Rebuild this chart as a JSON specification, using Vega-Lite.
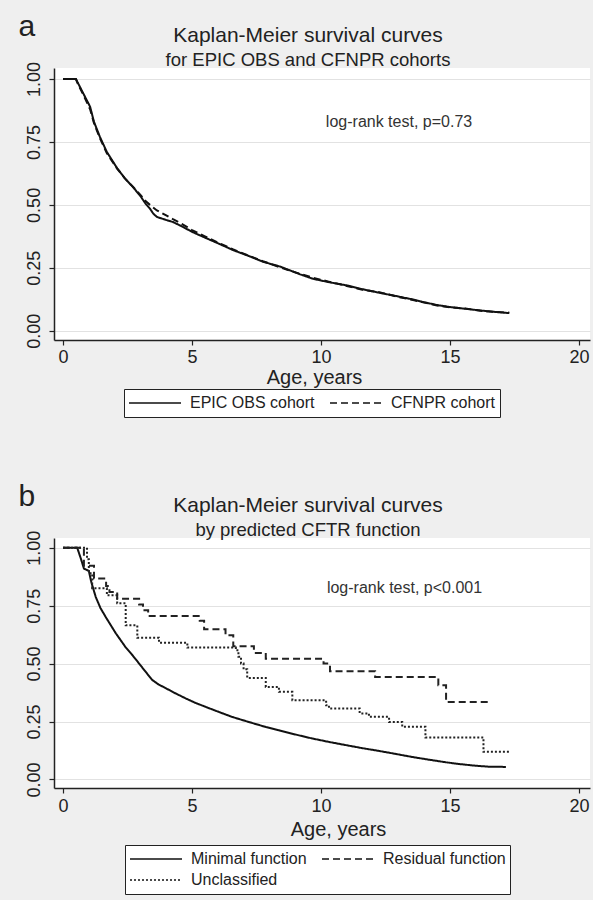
{
  "$schema": "https://vega.github.io/schema/vega-lite/v6.json",
  "background": "#efefef",
  "padding": {"left": 18, "top": 11, "right": 3, "bottom": 5},
  "spacing": 63,
  "resolve": {"scale": {"strokeDash": "independent"}, "legend": {"strokeDash": "independent"}},
  "config": {
    "font": "Liberation Sans",
    "view": {"fill": "white", "stroke": null},
    "axis": {"domainColor": "#222", "domainWidth": 1.5, "tickColor": "#222", "tickWidth": 1.2, "tickSize": 5, "labelFontSize": 18, "labelColor": "#222", "labelFont": "Liberation Sans", "titleFont": "Liberation Sans", "titleColor": "#222", "titleFontWeight": "normal", "grid": false, "labelFlush": false, "labelOverlap": false},
    "axisY": {"grid": true, "gridColor": "#e2e2e2", "gridWidth": 1, "labelAngle": 270, "labelAlign": "center", "labelBaseline": "bottom", "labelPadding": 6},
    "title": {"font": "Liberation Sans", "subtitleFont": "Liberation Sans", "fontSize": 21, "subtitleFontSize": 18.5, "fontWeight": "normal", "color": "#222", "subtitleColor": "#222", "anchor": "middle", "dx": -14, "subtitlePadding": 5, "offset": -58},
    "legend": {"orient": "none", "direction": "horizontal", "columns": 2, "fillColor": "white", "strokeColor": "#222", "padding": 4, "symbolType": "stroke", "symbolSize": 2704, "clipHeight": 20, "symbolStrokeWidth": 1.5, "symbolStrokeColor": "#111", "labelFontSize": 16, "labelColor": "#222", "labelFont": "Liberation Sans", "labelOffset": 8, "columnPadding": 14, "rowPadding": 1, "labelLimit": 300}
  },
  "datasets": {
    "top": [
      {"cohort": "EPIC OBS cohort", "t": 0, "s": 1}, {"cohort": "EPIC OBS cohort", "t": 0.5, "s": 1}, {"cohort": "EPIC OBS cohort", "t": 0.6, "s": 0.98}, {"cohort": "EPIC OBS cohort", "t": 0.8, "s": 0.94}, {"cohort": "EPIC OBS cohort", "t": 1.05, "s": 0.89}, {"cohort": "EPIC OBS cohort", "t": 1.2, "s": 0.83}, {"cohort": "EPIC OBS cohort", "t": 1.43, "s": 0.77}, {"cohort": "EPIC OBS cohort", "t": 1.7, "s": 0.71}, {"cohort": "EPIC OBS cohort", "t": 2.09, "s": 0.647}, {"cohort": "EPIC OBS cohort", "t": 2.4, "s": 0.605}, {"cohort": "EPIC OBS cohort", "t": 2.71, "s": 0.571}, {"cohort": "EPIC OBS cohort", "t": 3.0, "s": 0.535}, {"cohort": "EPIC OBS cohort", "t": 3.2, "s": 0.505}, {"cohort": "EPIC OBS cohort", "t": 3.37, "s": 0.485}, {"cohort": "EPIC OBS cohort", "t": 3.5, "s": 0.465}, {"cohort": "EPIC OBS cohort", "t": 3.64, "s": 0.452}, {"cohort": "EPIC OBS cohort", "t": 4.0, "s": 0.44}, {"cohort": "EPIC OBS cohort", "t": 4.26, "s": 0.432}, {"cohort": "EPIC OBS cohort", "t": 4.6, "s": 0.415}, {"cohort": "EPIC OBS cohort", "t": 5.0, "s": 0.393}, {"cohort": "EPIC OBS cohort", "t": 5.5, "s": 0.37}, {"cohort": "EPIC OBS cohort", "t": 5.97, "s": 0.349}, {"cohort": "EPIC OBS cohort", "t": 6.6, "s": 0.32}, {"cohort": "EPIC OBS cohort", "t": 7.2, "s": 0.297}, {"cohort": "EPIC OBS cohort", "t": 7.75, "s": 0.274}, {"cohort": "EPIC OBS cohort", "t": 8.41, "s": 0.255}, {"cohort": "EPIC OBS cohort", "t": 9.19, "s": 0.224}, {"cohort": "EPIC OBS cohort", "t": 9.7, "s": 0.206}, {"cohort": "EPIC OBS cohort", "t": 10.3, "s": 0.193}, {"cohort": "EPIC OBS cohort", "t": 11.0, "s": 0.18}, {"cohort": "EPIC OBS cohort", "t": 11.6, "s": 0.165}, {"cohort": "EPIC OBS cohort", "t": 12.3, "s": 0.15}, {"cohort": "EPIC OBS cohort", "t": 13.0, "s": 0.136}, {"cohort": "EPIC OBS cohort", "t": 13.57, "s": 0.124}, {"cohort": "EPIC OBS cohort", "t": 14.0, "s": 0.113}, {"cohort": "EPIC OBS cohort", "t": 14.5, "s": 0.102}, {"cohort": "EPIC OBS cohort", "t": 15.0, "s": 0.094}, {"cohort": "EPIC OBS cohort", "t": 15.6, "s": 0.087}, {"cohort": "EPIC OBS cohort", "t": 16.3, "s": 0.079}, {"cohort": "EPIC OBS cohort", "t": 16.8, "s": 0.074}, {"cohort": "EPIC OBS cohort", "t": 17.3, "s": 0.07},
      {"cohort": "CFNPR cohort", "t": 0, "s": 1}, {"cohort": "CFNPR cohort", "t": 0.5, "s": 1}, {"cohort": "CFNPR cohort", "t": 0.6, "s": 0.975}, {"cohort": "CFNPR cohort", "t": 0.8, "s": 0.935}, {"cohort": "CFNPR cohort", "t": 1.05, "s": 0.88}, {"cohort": "CFNPR cohort", "t": 1.2, "s": 0.825}, {"cohort": "CFNPR cohort", "t": 1.43, "s": 0.765}, {"cohort": "CFNPR cohort", "t": 1.7, "s": 0.705}, {"cohort": "CFNPR cohort", "t": 2.09, "s": 0.645}, {"cohort": "CFNPR cohort", "t": 2.4, "s": 0.605}, {"cohort": "CFNPR cohort", "t": 2.71, "s": 0.572}, {"cohort": "CFNPR cohort", "t": 3.0, "s": 0.54}, {"cohort": "CFNPR cohort", "t": 3.2, "s": 0.515}, {"cohort": "CFNPR cohort", "t": 3.37, "s": 0.5}, {"cohort": "CFNPR cohort", "t": 3.64, "s": 0.478}, {"cohort": "CFNPR cohort", "t": 4.0, "s": 0.458}, {"cohort": "CFNPR cohort", "t": 4.26, "s": 0.443}, {"cohort": "CFNPR cohort", "t": 4.6, "s": 0.425}, {"cohort": "CFNPR cohort", "t": 5.0, "s": 0.4}, {"cohort": "CFNPR cohort", "t": 5.5, "s": 0.375}, {"cohort": "CFNPR cohort", "t": 5.97, "s": 0.352}, {"cohort": "CFNPR cohort", "t": 6.6, "s": 0.323}, {"cohort": "CFNPR cohort", "t": 7.2, "s": 0.298}, {"cohort": "CFNPR cohort", "t": 7.75, "s": 0.276}, {"cohort": "CFNPR cohort", "t": 8.41, "s": 0.252}, {"cohort": "CFNPR cohort", "t": 9.19, "s": 0.226}, {"cohort": "CFNPR cohort", "t": 9.7, "s": 0.21}, {"cohort": "CFNPR cohort", "t": 10.3, "s": 0.195}, {"cohort": "CFNPR cohort", "t": 11.0, "s": 0.178}, {"cohort": "CFNPR cohort", "t": 11.6, "s": 0.163}, {"cohort": "CFNPR cohort", "t": 12.3, "s": 0.152}, {"cohort": "CFNPR cohort", "t": 13.0, "s": 0.134}, {"cohort": "CFNPR cohort", "t": 13.57, "s": 0.122}, {"cohort": "CFNPR cohort", "t": 14.0, "s": 0.112}, {"cohort": "CFNPR cohort", "t": 14.5, "s": 0.1}, {"cohort": "CFNPR cohort", "t": 15.0, "s": 0.093}, {"cohort": "CFNPR cohort", "t": 15.6, "s": 0.088}, {"cohort": "CFNPR cohort", "t": 16.3, "s": 0.078}, {"cohort": "CFNPR cohort", "t": 16.8, "s": 0.074}, {"cohort": "CFNPR cohort", "t": 17.3, "s": 0.072}
    ],
    "minimal": [
      {"group": "Minimal function", "t": 0, "s": 1}, {"group": "Minimal function", "t": 0.55, "s": 1}, {"group": "Minimal function", "t": 0.7, "s": 0.95}, {"group": "Minimal function", "t": 0.81, "s": 0.91}, {"group": "Minimal function", "t": 1.0, "s": 0.9}, {"group": "Minimal function", "t": 1.1, "s": 0.85}, {"group": "Minimal function", "t": 1.27, "s": 0.787}, {"group": "Minimal function", "t": 1.45, "s": 0.74}, {"group": "Minimal function", "t": 1.66, "s": 0.7}, {"group": "Minimal function", "t": 2.05, "s": 0.63}, {"group": "Minimal function", "t": 2.43, "s": 0.57}, {"group": "Minimal function", "t": 2.7, "s": 0.535}, {"group": "Minimal function", "t": 2.95, "s": 0.5}, {"group": "Minimal function", "t": 3.2, "s": 0.465}, {"group": "Minimal function", "t": 3.45, "s": 0.43}, {"group": "Minimal function", "t": 3.7, "s": 0.41}, {"group": "Minimal function", "t": 3.98, "s": 0.394}, {"group": "Minimal function", "t": 4.35, "s": 0.372}, {"group": "Minimal function", "t": 4.75, "s": 0.35}, {"group": "Minimal function", "t": 5.1, "s": 0.332}, {"group": "Minimal function", "t": 5.53, "s": 0.313}, {"group": "Minimal function", "t": 6.0, "s": 0.293}, {"group": "Minimal function", "t": 6.55, "s": 0.27}, {"group": "Minimal function", "t": 7.2, "s": 0.248}, {"group": "Minimal function", "t": 7.87, "s": 0.226}, {"group": "Minimal function", "t": 8.37, "s": 0.212}, {"group": "Minimal function", "t": 9.15, "s": 0.19}, {"group": "Minimal function", "t": 9.65, "s": 0.177}, {"group": "Minimal function", "t": 10.3, "s": 0.162}, {"group": "Minimal function", "t": 10.97, "s": 0.148}, {"group": "Minimal function", "t": 11.6, "s": 0.135}, {"group": "Minimal function", "t": 12.25, "s": 0.123}, {"group": "Minimal function", "t": 12.9, "s": 0.11}, {"group": "Minimal function", "t": 13.53, "s": 0.097}, {"group": "Minimal function", "t": 14.2, "s": 0.085}, {"group": "Minimal function", "t": 14.84, "s": 0.074}, {"group": "Minimal function", "t": 15.4, "s": 0.066}, {"group": "Minimal function", "t": 16.0, "s": 0.059}, {"group": "Minimal function", "t": 16.5, "s": 0.055}, {"group": "Minimal function", "t": 17.17, "s": 0.054}
    ],
    "others": [
      {"group": "Residual function", "t": 0, "s": 1}, {"group": "Residual function", "t": 0.81, "s": 0.922}, {"group": "Residual function", "t": 1.2, "s": 0.867}, {"group": "Residual function", "t": 1.67, "s": 0.835}, {"group": "Residual function", "t": 1.8, "s": 0.809}, {"group": "Residual function", "t": 2.1, "s": 0.78}, {"group": "Residual function", "t": 2.95, "s": 0.755}, {"group": "Residual function", "t": 3.1, "s": 0.73}, {"group": "Residual function", "t": 3.3, "s": 0.705}, {"group": "Residual function", "t": 5.3, "s": 0.685}, {"group": "Residual function", "t": 5.47, "s": 0.648}, {"group": "Residual function", "t": 6.3, "s": 0.622}, {"group": "Residual function", "t": 6.6, "s": 0.575}, {"group": "Residual function", "t": 7.4, "s": 0.546}, {"group": "Residual function", "t": 7.86, "s": 0.521}, {"group": "Residual function", "t": 10.1, "s": 0.5}, {"group": "Residual function", "t": 10.35, "s": 0.467}, {"group": "Residual function", "t": 12.1, "s": 0.442}, {"group": "Residual function", "t": 14.55, "s": 0.406}, {"group": "Residual function", "t": 14.85, "s": 0.334}, {"group": "Residual function", "t": 16.5, "s": 0.334},
      {"group": "Unclassified", "t": 0, "s": 1}, {"group": "Unclassified", "t": 0.93, "s": 0.95}, {"group": "Unclassified", "t": 1.0, "s": 0.89}, {"group": "Unclassified", "t": 1.13, "s": 0.825}, {"group": "Unclassified", "t": 1.7, "s": 0.795}, {"group": "Unclassified", "t": 2.1, "s": 0.76}, {"group": "Unclassified", "t": 2.43, "s": 0.665}, {"group": "Unclassified", "t": 2.88, "s": 0.612}, {"group": "Unclassified", "t": 3.72, "s": 0.59}, {"group": "Unclassified", "t": 4.82, "s": 0.569}, {"group": "Unclassified", "t": 6.7, "s": 0.557}, {"group": "Unclassified", "t": 6.8, "s": 0.53}, {"group": "Unclassified", "t": 6.9, "s": 0.5}, {"group": "Unclassified", "t": 7.0, "s": 0.475}, {"group": "Unclassified", "t": 7.14, "s": 0.438}, {"group": "Unclassified", "t": 7.86, "s": 0.399}, {"group": "Unclassified", "t": 8.37, "s": 0.378}, {"group": "Unclassified", "t": 8.89, "s": 0.342}, {"group": "Unclassified", "t": 10.2, "s": 0.32}, {"group": "Unclassified", "t": 10.31, "s": 0.306}, {"group": "Unclassified", "t": 11.5, "s": 0.285}, {"group": "Unclassified", "t": 11.86, "s": 0.27}, {"group": "Unclassified", "t": 12.64, "s": 0.248}, {"group": "Unclassified", "t": 13.15, "s": 0.227}, {"group": "Unclassified", "t": 14.05, "s": 0.181}, {"group": "Unclassified", "t": 16.3, "s": 0.119}, {"group": "Unclassified", "t": 17.3, "s": 0.119}
    ]
  },
  "vconcat": [
    {
      "width": 536,
      "height": 272,
      "title": {"text": "Kaplan-Meier survival curves", "subtitle": "for EPIC OBS and CFNPR cohorts"},
      "layer": [
        {
          "data": {"name": "top"},
          "mark": {"type": "line", "interpolate": "linear", "strokeWidth": 2, "color": "#111"},
          "encoding": {
            "x": {"field": "t", "type": "quantitative", "scale": {"domain": [-0.35, 20.43], "nice": false, "zero": false},
                  "axis": {"values": [0, 5, 10, 15, 20], "title": "Age, years", "titleX": 260, "titleY": 43, "titleBaseline": "alphabetic", "titleAlign": "center", "titleFontSize": 20, "labelPadding": 3}},
            "y": {"field": "s", "type": "quantitative", "scale": {"domain": [-0.037, 1.044], "nice": false, "zero": false},
                  "axis": {"values": [0, 0.25, 0.5, 0.75, 1], "format": ".2f", "title": "a", "titleAngle": 0, "titleX": -36, "titleY": -33, "titleAlign": "left", "titleBaseline": "alphabetic", "titleFontSize": 30}},
            "strokeDash": {"field": "cohort", "type": "nominal",
                  "scale": {"domain": ["EPIC OBS cohort", "CFNPR cohort"], "range": [[1, 0], [7, 4]]},
                  "legend": {"title": null, "legendX": 70, "legendY": 321}}
          }
        },
        {
          "data": {"values": [{"t": 10.19, "s": 0.83, "label": "log-rank test, p=0.73"}]},
          "mark": {"type": "text", "align": "left", "baseline": "middle", "fontSize": 16, "color": "#333", "font": "Liberation Sans"},
          "encoding": {
            "x": {"field": "t", "type": "quantitative"},
            "y": {"field": "s", "type": "quantitative"},
            "text": {"field": "label"}
          }
        }
      ]
    },
    {
      "width": 536,
      "height": 250,
      "title": {"text": "Kaplan-Meier survival curves", "subtitle": "by predicted CFTR function"},
      "layer": [
        {
          "data": {"name": "minimal"},
          "mark": {"type": "line", "interpolate": "linear", "strokeWidth": 2, "color": "#111"},
          "encoding": {
            "x": {"field": "t", "type": "quantitative", "scale": {"domain": [-0.35, 20.43], "nice": false, "zero": false},
                  "axis": {"values": [0, 5, 10, 15, 20], "title": "Age, years", "titleX": 284, "titleY": 47, "titleBaseline": "alphabetic", "titleAlign": "center", "titleFontSize": 20, "labelPadding": 4}},
            "y": {"field": "s", "type": "quantitative", "scale": {"domain": [-0.037, 1.042], "nice": false, "zero": false},
                  "axis": {"values": [0, 0.25, 0.5, 0.75, 1], "format": ".2f", "title": "b", "titleAngle": 0, "titleX": -36, "titleY": -33, "titleAlign": "left", "titleBaseline": "alphabetic", "titleFontSize": 30}},
            "strokeDash": {"field": "group", "type": "nominal",
                  "scale": {"domain": ["Minimal function", "Residual function", "Unclassified"], "range": [[1, 0], [7, 4], [2, 2]]},
                  "legend": {"title": null, "legendX": 71, "legendY": 307}}
          }
        },
        {
          "data": {"name": "others"},
          "mark": {"type": "line", "interpolate": "step-after", "strokeWidth": 2, "color": "#222"},
          "encoding": {
            "x": {"field": "t", "type": "quantitative"},
            "y": {"field": "s", "type": "quantitative"},
            "strokeDash": {"field": "group", "type": "nominal",
                  "scale": {"domain": ["Minimal function", "Residual function", "Unclassified"], "range": [[1, 0], [7, 4], [2, 2]]}}
          }
        },
        {
          "data": {"values": [{"t": 10.23, "s": 0.825, "label": "log-rank test, p<0.001"}]},
          "mark": {"type": "text", "align": "left", "baseline": "middle", "fontSize": 16, "color": "#333", "font": "Liberation Sans"},
          "encoding": {
            "x": {"field": "t", "type": "quantitative"},
            "y": {"field": "s", "type": "quantitative"},
            "text": {"field": "label"}
          }
        }
      ]
    }
  ]
}
